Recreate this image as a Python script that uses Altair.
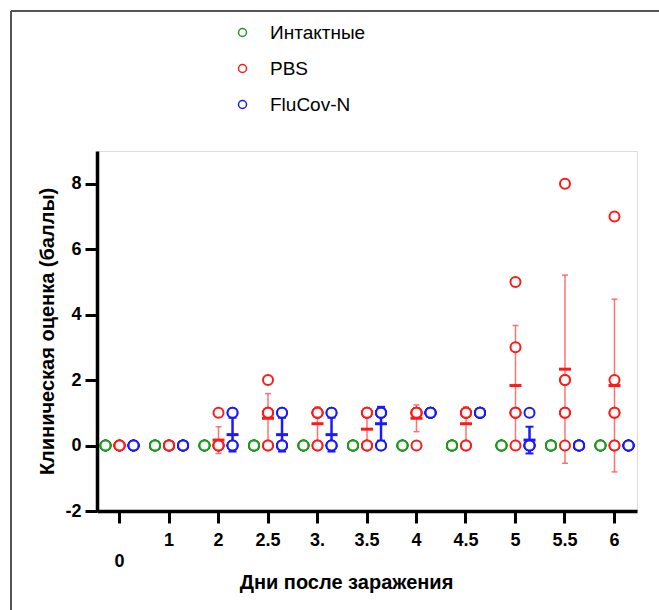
import altair as alt
import pandas as pd

days = ["0", "1", "2", "2.5", "3.", "3.5", "4", "4.5", "5", "5.5", "6"]
groups = ["Интактные", "PBS", "FluCov-N"]
colors = ["#1e9a1e", "#ff1a1a", "#1a1aff"]

intact = [
    [0, 0, 0, 0, 0, 0], [0, 0, 0, 0, 0, 0], [0, 0, 0, 0, 0, 0], [0, 0, 0, 0, 0, 0],
    [0, 0, 0, 0, 0, 0], [0, 0, 0, 0, 0, 0], [0, 0, 0, 0, 0, 0], [0, 0, 0, 0, 0, 0],
    [0, 0, 0, 0, 0, 0], [0, 0, 0, 0, 0, 0], [0, 0, 0, 0, 0, 0],
]
pbs = [
    [0, 0, 0, 0, 0, 0], [0, 0, 0, 0, 0, 0], [1, 0, 0, 0, 0, 0], [2, 1, 1, 1, 0, 0],
    [1, 1, 1, 1, 0, 0], [1, 1, 1, 0, 0, 0], [1, 1, 1, 1, 1, 0], [1, 1, 1, 1, 0, 0],
    [5, 3, 1, 1, 1, 0], [8, 2, 2, 1, 1, 0], [7, 2, 1, 1, 0, 0],
]
flucov = [
    [0, 0, 0, 0, 0, 0], [0, 0, 0, 0, 0, 0], [1, 1, 0, 0, 0, 0], [1, 1, 0, 0, 0, 0],
    [1, 1, 0, 0, 0, 0], [1, 1, 1, 1, 0, 0], [1, 1, 1, 1, 1, 1], [1, 1, 1, 1, 1, 1],
    [1, 0, 0, 0, 0, 0], [0, 0, 0, 0, 0, 0], [0, 0, 0, 0, 0, 0],
]

rows = []
for g, series in zip(groups, [intact, pbs, flucov]):
    for d, vals in zip(days, series):
        for v in vals:
            rows.append({"day": d, "group": g, "score": v})
df = pd.DataFrame(rows)
summ = df.groupby(["day", "group"], sort=False)["score"].agg(["mean", "std"]).reset_index()
summ["lo"] = summ["mean"] - summ["std"]
summ["hi"] = summ["mean"] + summ["std"]
s_pbs = summ[summ["group"] == "PBS"]
s_flu = summ[summ["group"] == "FluCov-N"]

FONT = "Liberation Sans"

x_enc = alt.X(
    "day:N", sort=days,
    scale=alt.Scale(domain=days, paddingInner=0.15, paddingOuter=0.03),
    axis=alt.Axis(
        title="Дни после заражения", labelAngle=0, labelFont=FONT, labelFontSize=18,
        labelFontWeight="bold", labelColor="black",
        labelPadding={"condition": {"test": "datum.value === '0'", "value": 29}, "value": 8},
        tickSize=12, tickWidth=3, tickColor="black", domainWidth=3.5, domainColor="black",
        titleFont=FONT, titleFontSize=20, titleFontWeight="bold", titleColor="black",
        titleX=249, titleY=71, titleBaseline="middle", titleAnchor="start", titleAlign="center",
    ),
)
xo_enc = alt.XOffset("group:N", scale=alt.Scale(domain=groups))

y_axis = alt.Axis(
    title="Клиническая оценка (баллы)", values=[-2, 0, 2, 4, 6, 8], grid=False,
    labelExpr="'' + datum.value",
    labelFont=FONT, labelFontSize=18, labelFontWeight="bold", labelColor="black",
    labelPadding=4, tickSize=12, tickWidth=3, tickColor="black",
    domainWidth=3.5, domainColor="black",
    titleFont=FONT, titleFontSize=20, titleFontWeight="bold", titleColor="black",
    titleX=-50, titleY=180, titleBaseline="middle", titleAlign="center", titleAnchor="start",
)
y_scale = alt.Scale(domain=[-2, 9], nice=False, zero=False)

one = pd.DataFrame({"k": [0]})
frame_v = alt.Chart(one).mark_rule(color="#555555", strokeWidth=2).encode(
    x=alt.value(-86), y=alt.value(-140), y2=alt.value(459))
frame_h = alt.Chart(one).mark_rule(color="#555555", strokeWidth=2).encode(
    x=alt.value(-86), x2=alt.value(562), y=alt.value(-140))


def err_layers(data, color, mean_color, rule_w, cap_size, cap_w, opacity):
    base = alt.Chart(data)
    rule = base.mark_rule(color=color, strokeWidth=rule_w, opacity=opacity).encode(
        x=x_enc, xOffset=xo_enc,
        y=alt.Y("lo:Q", scale=y_scale, axis=y_axis), y2="hi:Q")
    cap_lo = base.mark_tick(color=color, size=cap_size, thickness=cap_w, opacity=opacity).encode(
        x=x_enc, xOffset=xo_enc, y=alt.Y("lo:Q", scale=y_scale, axis=y_axis))
    cap_hi = base.mark_tick(color=color, size=cap_size, thickness=cap_w, opacity=opacity).encode(
        x=x_enc, xOffset=xo_enc, y=alt.Y("hi:Q", scale=y_scale, axis=y_axis))
    mean = base.mark_tick(color=mean_color, size=12, thickness=3, opacity=1).encode(
        x=x_enc, xOffset=xo_enc, y=alt.Y("mean:Q", scale=y_scale, axis=y_axis))
    return [rule, cap_lo, cap_hi, mean]


pbs_layers = err_layers(s_pbs, "#ff5a5a", "#ff1a1a", 1.5, 6, 1.5, 0.85)
flu_layers = err_layers(s_flu, "#1a1aff", "#1a1aff", 2.5, 8, 2, 1.0)

points = alt.Chart(df).mark_point(
    shape="circle", size=100, strokeWidth=2, filled=True, fill="white", opacity=1
).encode(
    x=x_enc, xOffset=xo_enc,
    y=alt.Y("score:Q", scale=y_scale, axis=y_axis),
    stroke=alt.Stroke(
        "group:N", scale=alt.Scale(domain=groups, range=colors),
        legend=alt.Legend(
            title=None, orient="none", legendX=136, legendY=-128, padding=0,
            labelFont=FONT, labelFontSize=19, labelColor="black", labelOffset=18,
            symbolSize=64, symbolStrokeWidth=1.5, symbolType="circle", rowPadding=16,
        ),
    ),
)

chart = alt.layer(frame_v, frame_h, *pbs_layers, *flu_layers, points).properties(
    width=540, height=360,
    padding={"left": 97, "top": 151, "right": 22, "bottom": 99},
    autosize=alt.AutoSizeParams(type="none"),
).configure_view(stroke=None).configure(background="white")

chart.save("out.html", embed_options={"renderer": "svg", "actions": False})
